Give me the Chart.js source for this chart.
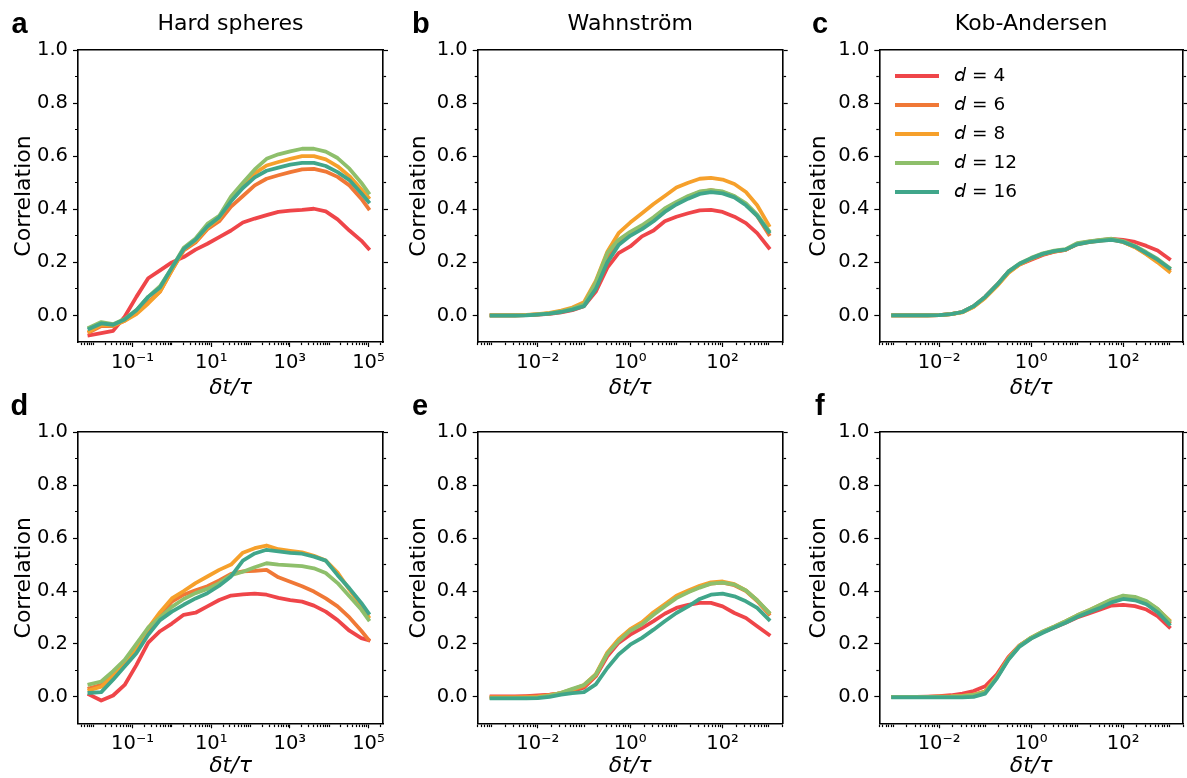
<!DOCTYPE html>
<html>
<head>
<meta charset="utf-8">
<script src="https://cdn.jsdelivr.net/npm/chart.js@4.4.1/dist/chart.umd.min.js"></script>
<style>
  body { margin: 0; background: #fff; }
  #fig { position: relative; width: 1187px; height: 778px; overflow: hidden; background: #fff; }
  #fig canvas { position: absolute; }
  .tag { position: absolute; font: bold 29px "Liberation Sans", Arial, sans-serif; line-height: 1; color: #000; }
</style>
</head>
<body>
<div id="fig">
  <canvas id="pa" width="393" height="400" style="left:0px;top:0px"></canvas>
  <canvas id="pb" width="397" height="400" style="left:395px;top:0px"></canvas>
  <canvas id="pc" width="392" height="400" style="left:795px;top:0px"></canvas>
  <canvas id="pd" width="393" height="378" style="left:0px;top:400px"></canvas>
  <canvas id="pe" width="397" height="378" style="left:395px;top:400px"></canvas>
  <canvas id="pf" width="392" height="378" style="left:795px;top:400px"></canvas>
  <div class="tag" style="left:11.5px;top:8.5px">a</div>
  <div class="tag" style="left:412px;top:8.5px">b</div>
  <div class="tag" style="left:812px;top:8.5px">c</div>
  <div class="tag" style="left:10.5px;top:390.5px">d</div>
  <div class="tag" style="left:412px;top:390.5px">e</div>
  <div class="tag" style="left:815px;top:390.5px">f</div>
</div>
<script>
// series names and colours
const seriesLabels = [' 𝘥 = 4', ' 𝘥 = 6', ' 𝘥 = 8', ' 𝘥 = 12', ' 𝘥 = 16'];
const seriesColors = ['#ef4549', '#f07836', '#f6a02b', '#8ebf6b', '#40a68a'];

// time grids (delta t / tau)
const xHS = [0.008, 0.016, 0.032, 0.063, 0.125, 0.25, 0.5, 1, 2, 4, 8, 16, 32, 64, 128, 256, 512, 1024, 2048, 4096, 8192, 16384, 32768, 65536, 100000];
const xMD = [0.001, 0.0018, 0.0032, 0.0056, 0.01, 0.018, 0.032, 0.056, 0.1, 0.18, 0.32, 0.56, 1, 1.8, 3.2, 5.6, 10, 18, 32, 56, 100, 180, 320, 560, 1000];

// a: hard spheres (top)
const aD4  = [-0.075, -0.067, -0.058, -0.005, 0.07, 0.14, 0.17, 0.2, 0.22, 0.248, 0.27, 0.295, 0.32, 0.35, 0.365, 0.378, 0.39, 0.395, 0.398, 0.402, 0.392, 0.362, 0.32, 0.282, 0.252];
const aD6  = [-0.063, -0.04, -0.04, -0.02, 0.01, 0.05, 0.09, 0.17, 0.245, 0.275, 0.325, 0.355, 0.41, 0.45, 0.49, 0.515, 0.528, 0.54, 0.55, 0.552, 0.542, 0.522, 0.49, 0.44, 0.403];
const aD8  = [-0.06, -0.035, -0.038, -0.02, 0.005, 0.045, 0.09, 0.17, 0.25, 0.28, 0.33, 0.365, 0.435, 0.49, 0.535, 0.565, 0.578, 0.59, 0.6, 0.6, 0.588, 0.562, 0.525, 0.475, 0.444];
const aD12 = [-0.045, -0.025, -0.033, -0.013, 0.02, 0.07, 0.11, 0.18, 0.255, 0.29, 0.345, 0.375, 0.448, 0.5, 0.55, 0.59, 0.607, 0.618, 0.628, 0.628, 0.617, 0.593, 0.553, 0.5, 0.462];
const aD16 = [-0.05, -0.03, -0.035, -0.015, 0.02, 0.07, 0.105, 0.18, 0.25, 0.285, 0.335, 0.37, 0.43, 0.48, 0.52, 0.545, 0.557, 0.568, 0.575, 0.575, 0.563, 0.54, 0.51, 0.46, 0.428];

// b: Wahnstrom (top)
const bD4  = [0, 0, 0, 0.001, 0.003, 0.006, 0.012, 0.02, 0.035, 0.09, 0.18, 0.235, 0.26, 0.298, 0.32, 0.355, 0.372, 0.385, 0.396, 0.398, 0.39, 0.372, 0.348, 0.31, 0.255];
const bD6  = [0, 0, 0, 0.001, 0.004, 0.008, 0.015, 0.025, 0.04, 0.11, 0.215, 0.27, 0.31, 0.335, 0.365, 0.4, 0.425, 0.447, 0.465, 0.472, 0.465, 0.448, 0.418, 0.375, 0.305];
const bD8  = [0, 0, 0, 0.002, 0.005, 0.01, 0.018, 0.03, 0.05, 0.13, 0.24, 0.31, 0.35, 0.385, 0.42, 0.45, 0.482, 0.5, 0.515, 0.518, 0.512, 0.495, 0.465, 0.415, 0.34];
const bD12 = [0, 0, 0, 0.001, 0.004, 0.008, 0.015, 0.026, 0.042, 0.125, 0.235, 0.285, 0.315, 0.34, 0.37, 0.403, 0.428, 0.45, 0.467, 0.472, 0.467, 0.45, 0.422, 0.38, 0.32];
const bD16 = [-0.001, -0.001, -0.001, 0, 0.003, 0.007, 0.013, 0.022, 0.035, 0.1, 0.2, 0.265, 0.3, 0.325, 0.355, 0.39, 0.418, 0.44, 0.458, 0.465, 0.46, 0.445, 0.415, 0.375, 0.315];

// c: Kob-Andersen (top)
const cD4  = [0, 0, 0, 0, 0.001, 0.005, 0.013, 0.035, 0.07, 0.115, 0.165, 0.192, 0.21, 0.228, 0.24, 0.247, 0.27, 0.278, 0.284, 0.288, 0.285, 0.277, 0.262, 0.245, 0.213];
const cD6  = [0, 0, 0, 0, 0.001, 0.005, 0.013, 0.033, 0.068, 0.112, 0.162, 0.193, 0.213, 0.23, 0.24, 0.247, 0.268, 0.276, 0.282, 0.286, 0.277, 0.258, 0.232, 0.205, 0.172];
const cD8  = [0, 0, 0, 0, 0.001, 0.005, 0.012, 0.032, 0.066, 0.11, 0.16, 0.192, 0.214, 0.232, 0.242, 0.248, 0.27, 0.277, 0.283, 0.287, 0.277, 0.257, 0.23, 0.2, 0.165];
const cD12 = [0, 0, 0, 0, 0.001, 0.005, 0.013, 0.035, 0.07, 0.115, 0.165, 0.196, 0.217, 0.234, 0.244, 0.25, 0.272, 0.279, 0.285, 0.289, 0.28, 0.262, 0.238, 0.213, 0.18];
const cD16 = [0, 0, 0, 0, 0.001, 0.005, 0.013, 0.035, 0.07, 0.115, 0.165, 0.195, 0.215, 0.232, 0.242, 0.248, 0.268, 0.276, 0.281, 0.285, 0.277, 0.26, 0.235, 0.21, 0.178];

// d: hard spheres (bottom)
const dD4  = [0.008, -0.014, 0.005, 0.045, 0.12, 0.205, 0.248, 0.277, 0.31, 0.318, 0.342, 0.366, 0.383, 0.387, 0.39, 0.386, 0.374, 0.366, 0.36, 0.345, 0.322, 0.29, 0.25, 0.222, 0.214];
const dD6  = [0.032, 0.045, 0.083, 0.13, 0.18, 0.25, 0.305, 0.36, 0.386, 0.403, 0.418, 0.44, 0.465, 0.474, 0.476, 0.48, 0.452, 0.435, 0.418, 0.398, 0.372, 0.342, 0.3, 0.25, 0.216];
const dD8  = [0.025, 0.038, 0.08, 0.13, 0.18, 0.26, 0.32, 0.372, 0.4, 0.43, 0.455, 0.48, 0.5, 0.545, 0.562, 0.572, 0.558, 0.552, 0.546, 0.533, 0.515, 0.47, 0.405, 0.345, 0.303];
const dD12 = [0.047, 0.058, 0.097, 0.14, 0.2, 0.262, 0.3, 0.34, 0.37, 0.392, 0.408, 0.43, 0.46, 0.473, 0.49, 0.505, 0.5, 0.497, 0.494, 0.486, 0.468, 0.43, 0.38, 0.33, 0.292];
const dD16 = [0.015, 0.018, 0.065, 0.115, 0.165, 0.235, 0.29, 0.322, 0.348, 0.372, 0.392, 0.42, 0.455, 0.515, 0.542, 0.556, 0.55, 0.544, 0.541, 0.53, 0.515, 0.46, 0.41, 0.355, 0.317];

// e: Wahnstrom (bottom)
const eD4  = [0.002, 0.002, 0.002, 0.003, 0.005, 0.008, 0.013, 0.022, 0.035, 0.078, 0.153, 0.204, 0.235, 0.26, 0.286, 0.314, 0.336, 0.348, 0.355, 0.355, 0.342, 0.317, 0.298, 0.267, 0.235];
const eD6  = [0, 0, 0, 0.001, 0.003, 0.007, 0.013, 0.025, 0.04, 0.08, 0.163, 0.215, 0.253, 0.278, 0.315, 0.346, 0.378, 0.397, 0.416, 0.428, 0.432, 0.422, 0.4, 0.362, 0.313];
const eD8  = [-0.003, -0.003, -0.003, -0.002, 0, 0.006, 0.015, 0.028, 0.045, 0.086, 0.168, 0.218, 0.256, 0.282, 0.32, 0.35, 0.382, 0.402, 0.42, 0.433, 0.436, 0.426, 0.402, 0.365, 0.318];
const eD12 = [-0.005, -0.005, -0.005, -0.004, -0.002, 0.005, 0.015, 0.03, 0.045, 0.084, 0.163, 0.21, 0.25, 0.274, 0.31, 0.342, 0.373, 0.395, 0.413, 0.428, 0.432, 0.424, 0.402, 0.365, 0.32];
const eD16 = [-0.006, -0.006, -0.006, -0.006, -0.005, 0, 0.008, 0.014, 0.018, 0.047, 0.109, 0.16, 0.197, 0.223, 0.254, 0.286, 0.317, 0.342, 0.37, 0.386, 0.39, 0.38, 0.361, 0.336, 0.292];

// f: Kob-Andersen (bottom)
const fD4  = [0, 0, 0, 0.001, 0.003, 0.006, 0.012, 0.022, 0.04, 0.085, 0.15, 0.195, 0.222, 0.245, 0.262, 0.28, 0.3, 0.315, 0.33, 0.345, 0.348, 0.343, 0.33, 0.305, 0.264];
const fD6  = [0, 0, 0, 0, 0.001, 0.002, 0.004, 0.008, 0.02, 0.075, 0.145, 0.193, 0.222, 0.245, 0.264, 0.283, 0.305, 0.323, 0.342, 0.362, 0.375, 0.37, 0.355, 0.325, 0.282];
const fD8  = [0, 0, 0, 0, 0.001, 0.002, 0.004, 0.008, 0.02, 0.075, 0.145, 0.194, 0.224, 0.247, 0.266, 0.286, 0.308, 0.327, 0.347, 0.367, 0.38, 0.375, 0.36, 0.332, 0.29];
const fD12 = [0, 0, 0, 0, 0, 0.001, 0.003, 0.007, 0.018, 0.073, 0.143, 0.193, 0.224, 0.247, 0.266, 0.286, 0.308, 0.327, 0.348, 0.368, 0.383, 0.378, 0.362, 0.333, 0.287];
const fD16 = [-0.002, -0.002, -0.002, -0.002, -0.002, -0.002, -0.002, 0, 0.012, 0.07, 0.14, 0.19, 0.22, 0.242, 0.262, 0.28, 0.302, 0.32, 0.337, 0.357, 0.37, 0.365, 0.35, 0.32, 0.275];

// ticks
const yTickValues = [0, 0.1, 0.2, 0.3, 0.4, 0.5, 0.6, 0.7, 0.8, 0.9, 1.0];
const yLabelValues = [0, 0.2, 0.4, 0.6, 0.8, 1.0];
const xMajorHS = [0.1, 10, 1000, 100000];
const xLabelsHS = ['10⁻¹', '10¹', '10³', '10⁵'];
const xMajorMD = [0.01, 1, 100];
const xLabelsMD = ['10⁻²', '10⁰', '10²'];

const FONT = 'DejaVu Sans';

function logTicks(min, max) {
  const out = [];
  for (let k = -4; k <= 6; k++) {
    for (let m = 1; m <= 9; m++) {
      const v = m * 10 ** k;
      if (v >= min && v <= max) out.push(v);
    }
  }
  return out;
}

const placeLegend = {
  id: 'placeLegend',
  afterLayout(chart) {
    const lg = chart.legend;
    if (!lg || !chart.options.plugins.legend.display) return;
    lg.left = 89.5;
    lg.top = 56.25;
    lg.right = lg.left + lg.width;
    lg.bottom = lg.top + 220;
  }
};

function panel(id, xs, ys, o) {
  const isYMajor = v => yLabelValues.includes(v);
  const isXMajor = v => o.xMajor.includes(v);
  const xTicks = logTicks(o.xmin, o.xmax);
  const tickFont = {family: FONT, size: 19.5};
  const datasets = ys.map((d, i) => ({
    label: seriesLabels[i],
    data: d,
    borderColor: seriesColors[i],
    backgroundColor: seriesColors[i],
    borderWidth: 3.8,
    pointRadius: 0,
    borderJoinStyle: 'round',
    borderCapStyle: 'square',
    tension: 0,
    order: ys.length - i
  }));
  const yTicksHook = s => { s.ticks = yTickValues.map(v => ({value: v})); };
  new Chart(document.getElementById(id), {
    type: 'line',
    data: {labels: xs, datasets: datasets},
    options: {
      responsive: false,
      animation: false,
      events: [],
      devicePixelRatio: 1,
      layout: {padding: {top: o.padTop, left: 0, right: 0, bottom: 0}},
      scales: {
        x: {
          type: 'logarithmic', position: 'bottom', min: o.xmin, max: o.xmax,
          afterBuildTicks: s => { s.ticks = xTicks.map(v => ({value: v})); },
          afterFit: s => { s.height = o.bottomH; },
          ticks: {
            autoSkip: false, maxRotation: 0, minRotation: 0, padding: 4, color: '#000', font: tickFont,
            callback: v => { const k = o.xMajor.indexOf(v); return k >= 0 ? o.xLabels[k] : ''; }
          },
          grid: {
            drawOnChartArea: false, tickLength: 5, tickWidth: 1.2, tickColor: '#000',
            tickBorderDash: c => isXMajor(c.tick.value) ? [] : [2.5, 50]
          },
          border: {color: '#000', width: 1.6},
          title: {display: true, text: 'δt/τ', color: '#000',
            font: {family: FONT, size: 22, style: 'italic', lineHeight: 1}, padding: {top: 0, bottom: 0.5}}
        },
        xt: {
          type: 'logarithmic', position: 'top', min: o.xmin, max: o.xmax,
          afterFit: s => { s.height = 0; },
          ticks: {display: false},
          grid: {drawOnChartArea: false, drawTicks: false},
          border: {color: '#000', width: 1.6}
        },
        y: {
          type: 'linear', position: 'left', min: -0.1, max: 1.0,
          afterBuildTicks: yTicksHook,
          afterFit: s => { s.width = o.leftW; },
          ticks: {
            autoSkip: false, padding: 5, color: '#000', font: tickFont,
            callback: v => isYMajor(v) ? v.toFixed(1) : ''
          },
          grid: {
            drawOnChartArea: false, tickLength: 5, tickWidth: 1.2, tickColor: '#000',
            tickBorderDash: c => isYMajor(c.tick.value) ? [] : [2.5, 50],
            tickBorderDashOffset: c => isYMajor(c.tick.value) ? 0 : -2
          },
          border: {color: '#000', width: 1.6},
          title: {display: true, text: 'Correlation', color: '#000',
            font: {family: FONT, size: 22, lineHeight: 1.2}, padding: {top: 11, bottom: 0}}
        },
        yr: {
          type: 'linear', position: 'right', min: -0.1, max: 1.0,
          afterBuildTicks: yTicksHook,
          afterFit: s => { s.width = o.rightW; },
          ticks: {display: false},
          grid: {
            drawOnChartArea: false, tickLength: 5, tickWidth: 1.2, tickColor: '#000',
            tickBorderDash: c => isYMajor(c.tick.value) ? [] : [2.5, 50]
          },
          border: {color: '#000', width: 1.6}
        }
      },
      plugins: {
        title: {
          display: !!o.title, text: o.title || '', fullSize: false, color: '#000',
          font: {family: FONT, size: 22, weight: 'normal', lineHeight: 1.2},
          padding: {top: 11, bottom: 12.6}
        },
        legend: {
          display: !!o.legend, position: 'chartArea', align: 'start',
          labels: {
            boxWidth: 44, boxHeight: 4, padding: 10.5, color: '#000',
            font: {family: FONT, size: 18.5},
            generateLabels: ch => Chart.defaults.plugins.legend.labels.generateLabels(ch)
              .map(l => Object.assign(l, {lineWidth: 0})),
            sort: (a, b) => a.datasetIndex - b.datasetIndex
          }
        },
        tooltip: {enabled: false}
      }
    },
    plugins: o.legend ? [placeLegend] : []
  });
}

const colA = {xmin: 0.0041, xmax: 234000, xMajor: xMajorHS, xLabels: xLabelsHS, leftW: 78, rightW: 10};
const colB = {xmin: 0.0005, xmax: 2000, xMajor: xMajorMD, xLabels: xLabelsMD, leftW: 82.7, rightW: 9.3};
const colC = {xmin: 0.0005, xmax: 2000, xMajor: xMajorMD, xLabels: xLabelsMD, leftW: 84.3, rightW: 2};
const rowTop = {padTop: 0, bottomH: 58};
const rowBot = {padTop: 32.3, bottomH: 54.7};

panel('pa', xHS, [aD4, aD6, aD8, aD12, aD16], Object.assign({}, colA, rowTop, {title: 'Hard spheres'}));
panel('pb', xMD, [bD4, bD6, bD8, bD12, bD16], Object.assign({}, colB, rowTop, {title: 'Wahnström'}));
panel('pc', xMD, [cD4, cD6, cD8, cD12, cD16], Object.assign({}, colC, rowTop, {title: 'Kob-Andersen', legend: true}));
panel('pd', xHS, [dD4, dD6, dD8, dD12, dD16], Object.assign({}, colA, rowBot));
panel('pe', xMD, [eD4, eD6, eD8, eD12, eD16], Object.assign({}, colB, rowBot));
panel('pf', xMD, [fD4, fD6, fD8, fD12, fD16], Object.assign({}, colC, rowBot));
</script>
</body>
</html>
